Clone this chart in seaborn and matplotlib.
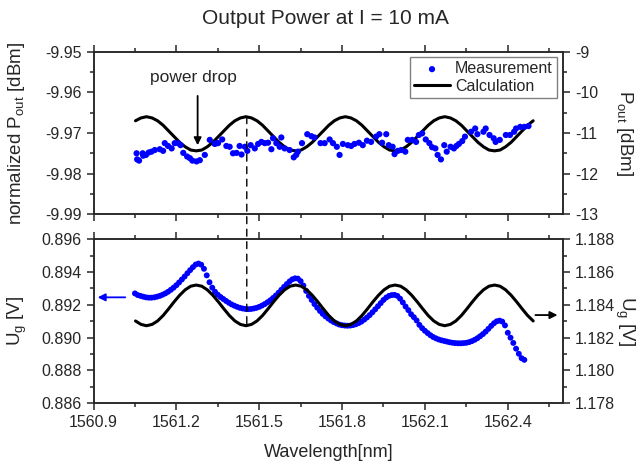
import numpy as np
import pandas as pd
import matplotlib
matplotlib.use("Agg")
import matplotlib.pyplot as plt
import seaborn as sns
from matplotlib.patches import ConnectionPatch
from matplotlib.ticker import MultipleLocator, FormatStrFormatter

# Dados
# Potência medida (painel superior)
top_wl = [1561.056, 1561.058, 1561.065, 1561.078, 1561.080, 1561.090, 1561.100, 1561.110,
          1561.122, 1561.140, 1561.152, 1561.158, 1561.170, 1561.183, 1561.194, 1561.206,
          1561.215, 1561.225, 1561.239, 1561.249, 1561.258, 1561.273, 1561.285, 1561.303,
          1561.321, 1561.339, 1561.345, 1561.351, 1561.366, 1561.381, 1561.393, 1561.405,
          1561.418, 1561.429, 1561.436, 1561.448, 1561.457, 1561.469, 1561.484, 1561.496,
          1561.508, 1561.520, 1561.532, 1561.544, 1561.550, 1561.562, 1561.574, 1561.580,
          1561.592, 1561.610, 1561.625, 1561.634, 1561.640, 1561.655, 1561.674, 1561.689,
          1561.700, 1561.722, 1561.737, 1561.755, 1561.767, 1561.781, 1561.791, 1561.803,
          1561.821, 1561.833, 1561.845, 1561.861, 1561.875, 1561.890, 1561.905, 1561.923,
          1561.935, 1561.945, 1561.960, 1561.969, 1561.983, 1561.990, 1562.002, 1562.014,
          1562.029, 1562.038, 1562.054, 1562.068, 1562.078, 1562.090, 1562.103, 1562.116,
          1562.126, 1562.138, 1562.146, 1562.158, 1562.170, 1562.179, 1562.193, 1562.205,
          1562.214, 1562.223, 1562.235, 1562.245, 1562.267, 1562.282, 1562.290, 1562.312,
          1562.320, 1562.334, 1562.349, 1562.356, 1562.371, 1562.393, 1562.408, 1562.423,
          1562.430, 1562.445, 1562.460, 1562.475]
top_pout = [-9.9750, -9.9765, -9.9768, -9.9750, -9.9756, -9.9754, -9.9748, -9.9746,
            -9.9742, -9.9740, -9.9744, -9.9725, -9.9732, -9.9738, -9.9725, -9.9725,
            -9.9730, -9.9749, -9.9758, -9.9762, -9.9768, -9.9770, -9.9767, -9.9754,
            -9.9717, -9.9727, -9.9725, -9.9725, -9.9716, -9.9732, -9.9734, -9.9750,
            -9.9749, -9.9732, -9.9753, -9.9734, -9.9744, -9.9730, -9.9738, -9.9727,
            -9.9722, -9.9725, -9.9724, -9.9740, -9.9713, -9.9725, -9.9734, -9.9711,
            -9.9738, -9.9742, -9.9760, -9.9754, -9.9746, -9.9725, -9.9703, -9.9708,
            -9.9711, -9.9725, -9.9725, -9.9716, -9.9725, -9.9734, -9.9754, -9.9727,
            -9.9730, -9.9732, -9.9727, -9.9724, -9.9730, -9.9719, -9.9722, -9.9709,
            -9.9703, -9.9724, -9.9703, -9.9730, -9.9734, -9.9752, -9.9744, -9.9742,
            -9.9746, -9.9717, -9.9717, -9.9722, -9.9705, -9.9701, -9.9716, -9.9725,
            -9.9735, -9.9738, -9.9754, -9.9765, -9.9730, -9.9746, -9.9734, -9.9738,
            -9.9732, -9.9727, -9.9720, -9.9709, -9.9697, -9.9689, -9.9703, -9.9697,
            -9.9689, -9.9705, -9.9713, -9.9722, -9.9717, -9.9705, -9.9705, -9.9697,
            -9.9689, -9.9685, -9.9685, -9.9683]

# Tensão medida (painel inferior), passo de 0.01 nm a partir de 1561.05
ug_start = 1561.05
ug_step = 0.01
ug_meas = [0.89270, 0.89260, 0.89255, 0.89250, 0.89246, 0.89244, 0.89244, 0.89246, 0.89250, 0.89255,
           0.89262, 0.89270, 0.89280, 0.89292, 0.89305, 0.89320, 0.89337, 0.89355, 0.89373, 0.89393,
           0.89412, 0.89430, 0.89446, 0.89452, 0.89445, 0.89420, 0.89380, 0.89338, 0.89305, 0.89280,
           0.89262, 0.89248, 0.89236, 0.89224, 0.89213, 0.89203, 0.89195, 0.89188, 0.89182, 0.89178,
           0.89175, 0.89174, 0.89175, 0.89178, 0.89182, 0.89188, 0.89196, 0.89205, 0.89216, 0.89228,
           0.89242, 0.89257, 0.89274, 0.89292, 0.89310, 0.89327, 0.89343, 0.89356, 0.89362, 0.89360,
           0.89345, 0.89318, 0.89285, 0.89255, 0.89230, 0.89205, 0.89183, 0.89163, 0.89145, 0.89130,
           0.89117, 0.89105, 0.89095, 0.89087, 0.89080, 0.89076, 0.89074, 0.89073, 0.89074, 0.89077,
           0.89082, 0.89089, 0.89098, 0.89110, 0.89123, 0.89138, 0.89155, 0.89173, 0.89192, 0.89211,
           0.89230, 0.89245, 0.89255, 0.89260, 0.89261, 0.89255, 0.89238, 0.89215, 0.89190, 0.89168,
           0.89143, 0.89125, 0.89105, 0.89078, 0.89058, 0.89042, 0.89028, 0.89015, 0.89004, 0.88996,
           0.88989, 0.88984, 0.88980, 0.88976, 0.88972, 0.88969, 0.88967, 0.88966, 0.88966, 0.88967,
           0.88969, 0.88973, 0.88979, 0.88987, 0.88997, 0.89009, 0.89022, 0.89037, 0.89054, 0.89072,
           0.89088, 0.89100, 0.89104, 0.89098, 0.89075, 0.89030, 0.89000, 0.88968, 0.88933, 0.88902,
           0.88875, 0.88865]

# Curvas calculadas, passo de 0.02 nm a partir de 1561.052
calc_start = 1561.052
calc_step = 0.02
calc_pout = [-9.9670, -9.9663, -9.9660, -9.9663, -9.9670, -9.9681, -9.9695, -9.9709, -9.9723,
             -9.9734, -9.9742, -9.9744, -9.9742, -9.9734, -9.9723, -9.9709, -9.9695, -9.9681,
             -9.9670, -9.9663, -9.9660, -9.9663, -9.9670, -9.9681, -9.9695, -9.9709, -9.9723,
             -9.9734, -9.9742, -9.9744, -9.9742, -9.9734, -9.9723, -9.9709, -9.9695, -9.9681,
             -9.9670, -9.9663, -9.9660, -9.9663, -9.9670, -9.9681, -9.9695, -9.9709, -9.9723,
             -9.9734, -9.9742, -9.9744, -9.9742, -9.9734, -9.9723, -9.9709, -9.9695, -9.9681,
             -9.9670, -9.9663, -9.9660, -9.9663, -9.9670, -9.9681, -9.9695, -9.9709, -9.9723,
             -9.9734, -9.9742, -9.9744, -9.9742, -9.9734, -9.9723, -9.9709, -9.9695, -9.9681,
             -9.9670]
calc_ug = [1.18302, 1.18281, 1.18273, 1.18281, 1.18302, 1.18335, 1.18376, 1.18419, 1.18459,
           1.18492, 1.18514, 1.18521, 1.18514, 1.18492, 1.18459, 1.18419, 1.18376, 1.18335,
           1.18302, 1.18281, 1.18273, 1.18281, 1.18302, 1.18335, 1.18376, 1.18419, 1.18459,
           1.18492, 1.18514, 1.18521, 1.18514, 1.18492, 1.18459, 1.18419, 1.18376, 1.18335,
           1.18302, 1.18281, 1.18273, 1.18281, 1.18302, 1.18335, 1.18376, 1.18419, 1.18459,
           1.18492, 1.18514, 1.18521, 1.18514, 1.18492, 1.18459, 1.18419, 1.18376, 1.18335,
           1.18302, 1.18281, 1.18273, 1.18281, 1.18302, 1.18335, 1.18376, 1.18419, 1.18459,
           1.18492, 1.18514, 1.18521, 1.18514, 1.18492, 1.18459, 1.18419, 1.18376, 1.18335,
           1.18302]

ug_wl = ug_start + ug_step * np.arange(len(ug_meas))
calc_wl = calc_start + calc_step * np.arange(len(calc_pout))

df_top = pd.DataFrame({'wl': top_wl, 'pout': top_pout})
df_ug = pd.DataFrame({'wl': ug_wl, 'ug': ug_meas})
df_calc = pd.DataFrame({'wl': calc_wl, 'pout': calc_pout, 'ug': calc_ug})

# Estilo
sns.set_style("ticks")
plt.rcParams['font.family'] = ['Liberation Sans', 'DejaVu Sans']
plt.rcParams['mathtext.default'] = 'regular'
plt.rcParams['axes.unicode_minus'] = False
plt.rcParams['axes.linewidth'] = 1.1

fig = plt.figure(figsize=(6.4, 4.65), dpi=100)
ax1 = fig.add_axes([0.1461, 0.5392, 0.7336, 0.3497])
ax2 = fig.add_axes([0.1461, 0.1327, 0.7336, 0.3527])

# Painel superior
sns.scatterplot(data=df_top, x='wl', y='pout', ax=ax1, color='blue', s=20,
                edgecolor='none', label='Measurement', zorder=3)
sns.lineplot(data=df_calc, x='wl', y='pout', ax=ax1, color='black', lw=2.2,
             label='Calculation', zorder=2)
ax1.set_xlim(1560.9, 1562.6)
ax1.set_ylim(-9.99, -9.95)
ax1.yaxis.set_major_locator(MultipleLocator(0.01))
ax1.yaxis.set_minor_locator(MultipleLocator(0.005))
ax1.yaxis.set_major_formatter(FormatStrFormatter('%.2f'))
ax1.set_xlabel('')
ax1.set_ylabel('normalized P$_{out}$ [dBm]', fontsize=13.5)
ax1.legend(loc='upper right', bbox_to_anchor=(0.987, 0.965), frameon=True,
           fancybox=False, edgecolor='gray', framealpha=1, fontsize=11.5,
           handlelength=2.3, borderpad=0.25, labelspacing=0.15,
           handletextpad=0.3, borderaxespad=0)

ax1r = ax1.twinx()
ax1r.set_ylim(-13, -9)
ax1r.yaxis.set_major_locator(MultipleLocator(1))
ax1r.yaxis.set_minor_locator(MultipleLocator(0.5))
ax1r.yaxis.set_major_formatter(FormatStrFormatter('%d'))
ax1r.set_ylabel('P$_{out}$ [dBm]', fontsize=13.5, rotation=270)

ax1.annotate('', xy=(1561.277, -9.9737), xytext=(1561.277, -9.9602),
             arrowprops=dict(arrowstyle='-|>', color='black', lw=1.3, mutation_scale=11))
ax1.text(1561.263, -9.9563, 'power drop', ha='center', va='center', fontsize=12.5)

# Painel inferior
sns.scatterplot(data=df_ug, x='wl', y='ug', ax=ax2, color='blue', s=18,
                edgecolor='none', legend=False, zorder=3)
ax2.set_xlim(1560.9, 1562.6)
ax2.set_ylim(0.886, 0.896)
ax2.yaxis.set_major_locator(MultipleLocator(0.002))
ax2.yaxis.set_minor_locator(MultipleLocator(0.001))
ax2.yaxis.set_major_formatter(FormatStrFormatter('%.3f'))
ax2.set_ylabel('U$_g$ [V]', fontsize=13.5)
ax2.set_xlabel('Wavelength[nm]', fontsize=13)
ax2.xaxis.set_label_coords(0.5, -0.297)
ax2.xaxis.label.set_va('center')

ax2r = ax2.twinx()
sns.lineplot(data=df_calc, x='wl', y='ug', ax=ax2r, color='black', lw=2.2)
ax2r.set_ylim(1.178, 1.188)
ax2r.yaxis.set_major_locator(MultipleLocator(0.002))
ax2r.yaxis.set_minor_locator(MultipleLocator(0.001))
ax2r.yaxis.set_major_formatter(FormatStrFormatter('%.3f'))
ax2r.set_ylabel('U$_g$ [V]', fontsize=13.5, rotation=270)

# Posição dos rótulos dos eixos y (centrados)
for ax in [ax1, ax2]:
    ax.yaxis.set_label_coords(-0.163, 0.5)
    ax.yaxis.label.set_va('center')
    ax.yaxis.label.set_ha('center')
for ax in [ax1r, ax2r]:
    ax.yaxis.set_label_coords(1.132, 0.5)
    ax.yaxis.label.set_va('center')
    ax.yaxis.label.set_ha('center')

ax2.annotate('', xy=(1560.905, 0.89246), xytext=(1561.025, 0.89246),
             arrowprops=dict(arrowstyle='-|>', color='blue', lw=1.3, mutation_scale=11))
ax2r.annotate('', xy=(1562.590, 1.18338), xytext=(1562.49, 1.18338),
              arrowprops=dict(arrowstyle='-|>', color='black', lw=1.3, mutation_scale=11),
              annotation_clip=False)

for ax in [ax1, ax2]:
    ax.xaxis.set_major_locator(MultipleLocator(0.3))
    ax.xaxis.set_minor_locator(MultipleLocator(0.15))
    ax.xaxis.set_major_formatter(FormatStrFormatter('%.1f'))
for ax in [ax1, ax1r, ax2, ax2r]:
    ax.tick_params(which='major', direction='out', length=5, width=1.1, labelsize=11.5,
                   top=True)
    ax.tick_params(which='minor', direction='out', length=3, width=1.1, top=True)
ax1.tick_params(labelbottom=False)

# Linha tracejada ligando os dois painéis
con = ConnectionPatch(xyA=(1561.455, -9.966), coordsA=ax1.transData,
                      xyB=(1561.455, 0.89073), coordsB=ax2.transData,
                      linestyle=(0, (5, 4)), color='black', lw=1)
fig.add_artist(con)

fig.text(325 / 640, 1 - 18 / 465, 'Output Power at I = 10 mA', ha='center',
         va='center', fontsize=15)

plt.savefig('out.png', dpi=100)
plt.close()
